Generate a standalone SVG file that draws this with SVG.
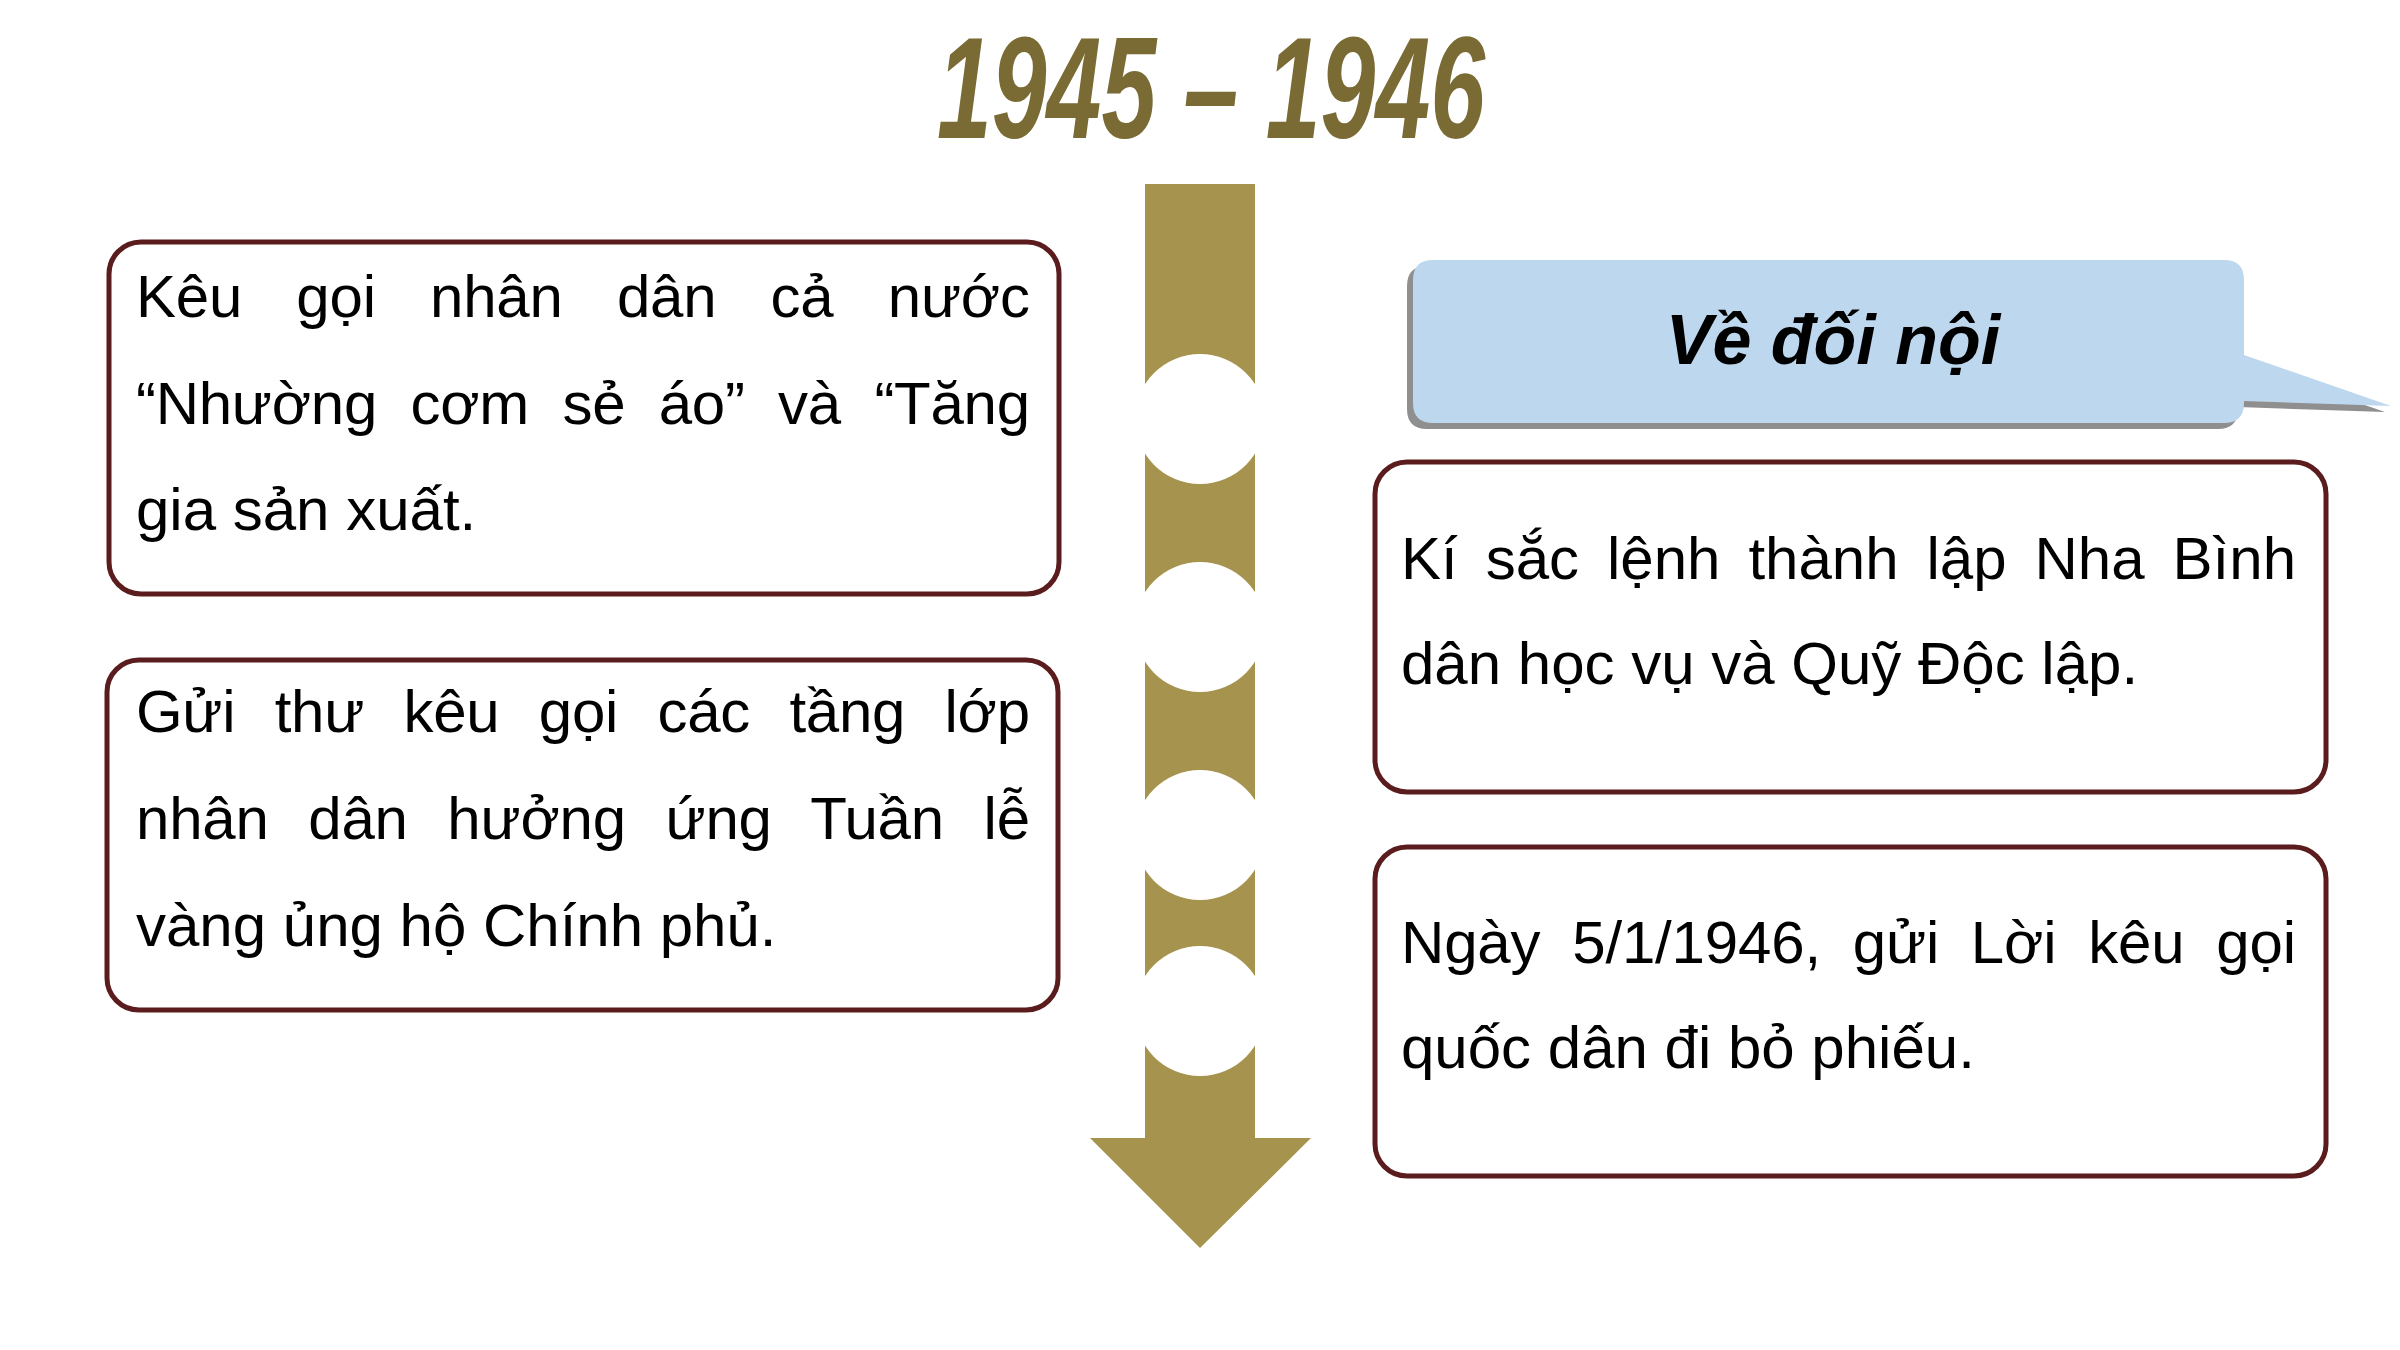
<svg xmlns="http://www.w3.org/2000/svg" width="2400" height="1350" viewBox="0 0 2400 1350">
<defs>
<style>
.box{fill:#ffffff;stroke:#5a1c1c;stroke-width:5}
.body{font-family:"Liberation Sans",Arial,sans-serif;font-size:60px;fill:#000000}
.title{font-family:"Liberation Sans",Arial,sans-serif;font-size:145px;font-weight:bold;font-style:italic;fill:#7a6a34}
.head{font-family:"Liberation Sans",Arial,sans-serif;font-size:70px;font-weight:bold;font-style:italic;fill:#000000}
</style>
<mask id="cuts">
<rect x="0" y="0" width="2400" height="1350" fill="#ffffff"/>
<circle cx="1200" cy="419" r="65" fill="#000000"/>
<circle cx="1200" cy="627" r="65" fill="#000000"/>
<circle cx="1200" cy="835" r="65" fill="#000000"/>
<circle cx="1200" cy="1011" r="65" fill="#000000"/>
</mask>
</defs>
<rect x="0" y="0" width="2400" height="1350" fill="#ffffff"/>

<g id="title">
<text class="title" x="937" y="138" textLength="548" lengthAdjust="spacingAndGlyphs">1945 – 1946</text>
</g>

<g id="connectors">
<g id="timeline-arrow" mask="url(#cuts)">
<path d="M1145,184 H1255 V1138 H1311 L1200,1248 L1090,1138 H1145 Z" fill="#a5934e"/>
</g>
</g>

<g id="node-left-1">
<rect class="box" x="109" y="242" width="950" height="352" rx="32"/>
<text class="body" x="136" y="317" word-spacing="37.8" textLength="894" lengthAdjust="spacing">Kêu gọi nhân dân cả nước</text>
<text class="body" x="136" y="424" word-spacing="17.1" textLength="894" lengthAdjust="spacing">“Nhường cơm sẻ áo” và “Tăng</text>
<text class="body" x="136" y="530">gia sản xuất.</text>
</g>

<g id="node-left-2">
<rect class="box" x="107" y="660" width="951" height="350" rx="32"/>
<text class="body" x="136" y="732" word-spacing="23.1" textLength="894" lengthAdjust="spacing">Gửi thư kêu gọi các tầng lớp</text>
<text class="body" x="136" y="839" word-spacing="23.1" textLength="894" lengthAdjust="spacing">nhân dân hưởng ứng Tuần lễ</text>
<text class="body" x="136" y="946">vàng ủng hộ Chính phủ.</text>
</g>

<g id="node-header">
<path d="M1427,266 H2218 Q2238,266 2238,286 V361 L2385,412 L2238,407 V409 Q2238,429 2218,429 H1427 Q1407,429 1407,409 V286 Q1407,266 1427,266 Z" fill="#8f8f8f"/>
<path d="M1433,260 H2224 Q2244,260 2244,280 V355 L2391,406 L2244,401 V403 Q2244,423 2224,423 H1433 Q1413,423 1413,403 V280 Q1413,260 1433,260 Z" fill="#bdd7ee"/>
<text class="head" x="1833" y="364" text-anchor="middle">Về đối nội</text>
</g>

<g id="node-right-1">
<rect class="box" x="1375" y="462" width="951" height="330" rx="32"/>
<text class="body" x="1401" y="579" word-spacing="11.3" textLength="895" lengthAdjust="spacing">Kí sắc lệnh thành lập Nha Bình</text>
<text class="body" x="1401" y="684">dân học vụ và Quỹ Độc lập.</text>
</g>

<g id="node-right-2">
<rect class="box" x="1375" y="847" width="951" height="329" rx="32"/>
<text class="body" x="1401" y="963" word-spacing="15.3" textLength="895" lengthAdjust="spacing">Ngày 5/1/1946, gửi Lời kêu gọi</text>
<text class="body" x="1401" y="1068">quốc dân đi bỏ phiếu.</text>
</g>
</svg>
